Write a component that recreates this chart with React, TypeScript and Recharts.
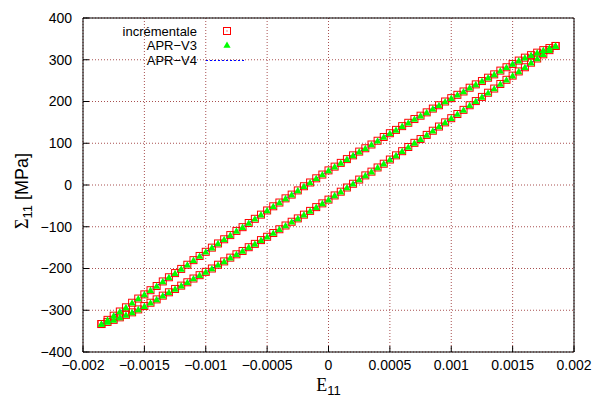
import * as React from "react";
import {
  ComposedChart,
  Scatter,
  Line,
  XAxis,
  YAxis,
  CartesianGrid,
  Legend,
} from "recharts";

// Strain E11, loading branch (from -Emax up to +Emax)
const strainLoading = [
  -0.00185, -0.0018, -0.00175, -0.0017, -0.00165, -0.0016, -0.00155, -0.0015,
  -0.00145, -0.0014, -0.00135, -0.0013, -0.00125, -0.0012, -0.00115, -0.0011,
  -0.00105, -0.001, -0.00095, -0.0009, -0.00085, -0.0008, -0.00075, -0.0007,
  -0.00065, -0.0006, -0.00055, -0.0005, -0.00045, -0.0004, -0.00035, -0.0003,
  -0.00025, -0.0002, -0.00015, -0.0001, -0.00005, 0, 0.00005, 0.0001, 0.00015,
  0.0002, 0.00025, 0.0003, 0.00035, 0.0004, 0.00045, 0.0005, 0.00055, 0.0006,
  0.00065, 0.0007, 0.00075, 0.0008, 0.00085, 0.0009, 0.00095, 0.001, 0.00105,
  0.0011, 0.00115, 0.0012, 0.00125, 0.0013, 0.00135, 0.0014, 0.00145, 0.0015,
  0.00155, 0.0016, 0.00165, 0.0017, 0.00175, 0.0018, 0.00185,
];

// Stress Sigma11 [MPa] on the loading branch
const stressLoading = [
  -333, -323, -313, -303, -293, -282, -272, -262, -252, -242, -231, -221, -211,
  -201, -191, -180, -170, -160, -150, -140, -130, -120, -110, -101, -91, -81,
  -71, -61, -51, -42, -32, -23, -13, -3, 6, 16, 25, 35, 44, 53, 62, 71, 80, 88,
  97, 106, 115, 124, 132, 141, 149, 158, 166, 174, 183, 191, 200, 208, 216, 224,
  233, 241, 249, 257, 265, 274, 282, 290, 298, 305, 311, 317, 323, 328, 333,
];

// Unloading branch (from +Emax back down to -Emax)
const strainUnloading = [
  0.00185, 0.0018, 0.00175, 0.0017, 0.00165, 0.0016, 0.00155, 0.0015, 0.00145,
  0.0014, 0.00135, 0.0013, 0.00125, 0.0012, 0.00115, 0.0011, 0.00105, 0.001,
  0.00095, 0.0009, 0.00085, 0.0008, 0.00075, 0.0007, 0.00065, 0.0006, 0.00055,
  0.0005, 0.00045, 0.0004, 0.00035, 0.0003, 0.00025, 0.0002, 0.00015, 0.0001,
  0.00005, 0, -0.00005, -0.0001, -0.00015, -0.0002, -0.00025, -0.0003,
  -0.00035, -0.0004, -0.00045, -0.0005, -0.00055, -0.0006, -0.00065, -0.0007,
  -0.00075, -0.0008, -0.00085, -0.0009, -0.00095, -0.001, -0.00105, -0.0011,
  -0.00115, -0.0012, -0.00125, -0.0013, -0.00135, -0.0014, -0.00145, -0.0015,
  -0.00155, -0.0016, -0.00165, -0.0017, -0.00175, -0.0018, -0.00185,
];

const stressUnloading = [
  333, 323, 313, 303, 293, 282, 272, 262, 252, 242, 231, 221, 211, 201, 191,
  180, 170, 160, 150, 140, 130, 120, 110, 101, 91, 81, 71, 61, 51, 42, 32, 23,
  13, 3, -6, -16, -25, -35, -44, -53, -62, -71, -80, -88, -97, -106, -115, -124,
  -132, -141, -149, -158, -166, -174, -183, -191, -200, -208, -216, -224, -233,
  -241, -249, -257, -265, -274, -282, -290, -298, -305, -311, -317, -323, -328,
  -333,
];

const xTicks = [
  -0.002, -0.0015, -0.001, -0.0005, 0, 0.0005, 0.001, 0.0015, 0.002,
];
const yTicks = [-400, -300, -200, -100, 0, 100, 200, 300, 400];

const legendLabels = ["incrémentale", "APR\u2212V3", "APR\u2212V4"];

// the two APR models lie on top of the incremental solution at this scale
const chartData = [
  ...strainLoading.map((x, i) => ({
    x,
    inc: stressLoading[i],
    v3: stressLoading[i],
    v4: stressLoading[i],
  })),
  ...strainUnloading.map((x, i) => ({
    x,
    inc: stressUnloading[i],
    v3: stressUnloading[i],
    v4: stressUnloading[i],
  })),
];

const FONT = "'Liberation Sans', Arial, Helvetica, sans-serif";
const SERIF = "'Liberation Serif', 'Times New Roman', serif";
const fmt = (v: number) => String(v).replace("-", "\u2212");

// eslint-disable-next-line @typescript-eslint/no-explicit-any
const SquareDot = (props: any) => {
  const { cx, cy } = props;
  if (cx == null || cy == null) return null;
  return (
    <rect
      x={cx - 3.5}
      y={cy - 3.5}
      width={7}
      height={7}
      fill="none"
      stroke="#ff0000"
      strokeWidth={1}
    />
  );
};

// eslint-disable-next-line @typescript-eslint/no-explicit-any
const TriangleDot = (props: any) => {
  const { cx, cy } = props;
  if (cx == null || cy == null) return null;
  return (
    <path
      d={`M${cx},${cy - 3.6}L${cx + 3.6},${cy + 2.8}L${cx - 3.6},${cy + 2.8}Z`}
      fill="#00ff00"
    />
  );
};

const LegendBox = () => (
  <svg width={260} height={72} style={{ display: "block" }}>
    <g fontFamily={FONT} fontSize={13} fill="#000" textAnchor="end">
      <text x={197} y={35.5}>
        {legendLabels[0]}
      </text>
      <text x={197} y={50}>
        {legendLabels[1]}
      </text>
      <text x={197} y={65}>
        {legendLabels[2]}
      </text>
    </g>
    <rect x={223.5} y={27.5} width={7} height={7} fill="none" stroke="#ff0000" />
    <rect x={226.5} y={30.5} width={1} height={1} fill="#ff0000" />
    <path d="M227,41.4L230.6,47.8L223.4,47.8Z" fill="#00ff00" />
    <line
      x1={206}
      y1={60.5}
      x2={246}
      y2={60.5}
      stroke="#0000ff"
      strokeDasharray="2 2"
    />
  </svg>
);

// eslint-disable-next-line @typescript-eslint/no-explicit-any
const YTitle = (props: any) => {
  const vb = props.viewBox || { y: 18, height: 334 };
  const bottom = vb.y + vb.height / 2 + 44;
  return (
    <text
      x={28}
      y={bottom}
      transform={`rotate(-90, 28, ${bottom})`}
      fill="#000"
      fontSize={18}
    >
      <tspan fontFamily={SERIF}>Σ</tspan>
      <tspan fontFamily={FONT} fontSize={13} dy={4}>
        11
      </tspan>
      <tspan fontFamily={FONT} dy={-4}>
        {" [MPa]"}
      </tspan>
    </text>
  );
};

// eslint-disable-next-line @typescript-eslint/no-explicit-any
const XTitle = (props: any) => {
  const vb = props.viewBox || { x: 83, width: 491 };
  const cx = vb.x + vb.width / 2;
  return (
    <text x={cx} y={391} textAnchor="middle" fill="#000" fontSize={18}>
      <tspan fontFamily={SERIF}>E</tspan>
      <tspan fontFamily={FONT} fontSize={13} dy={4}>
        11
      </tspan>
    </text>
  );
};

const tickStyle = { fill: "#000", fontSize: 14, fontFamily: FONT };

export default function App() {
  return (
    <div style={{ position: "absolute", left: 0, top: 0, background: "#fff" }}>
      <ComposedChart
        width={605}
        height={403}
        data={chartData}
        margin={{ top: 8, right: 21, bottom: 21, left: 23 }}
      >
        <CartesianGrid
          stroke="#a85050"
          strokeDasharray="1 2"
          horizontalValues={yTicks}
          verticalValues={xTicks}
        />
        <XAxis
          dataKey="x"
          type="number"
          domain={[-0.002, 0.002]}
          ticks={xTicks}
          allowDataOverflow
          tickFormatter={fmt}
          tick={tickStyle}
          tickSize={-6}
          tickMargin={14}
          height={30}
          stroke="#000"
          interval={0}
          label={<XTitle />}
        />
        <XAxis
          xAxisId="top"
          orientation="top"
          type="number"
          domain={[-0.002, 0.002]}
          ticks={xTicks}
          allowDataOverflow
          tick={false}
          tickSize={-6}
          height={10}
          stroke="#000"
          interval={0}
        />
        <YAxis
          type="number"
          domain={[-400, 400]}
          ticks={yTicks}
          allowDataOverflow
          tickFormatter={fmt}
          tick={tickStyle}
          tickSize={-6}
          tickMargin={17}
          width={60}
          stroke="#000"
          interval={0}
          label={<YTitle />}
        />
        <YAxis
          yAxisId="right"
          orientation="right"
          type="number"
          domain={[-400, 400]}
          ticks={yTicks}
          allowDataOverflow
          tick={false}
          tickSize={-6}
          width={10}
          stroke="#000"
          interval={0}
        />
        <Legend
          layout="vertical"
          align="center"
          verticalAlign="middle"
          wrapperStyle={{ left: 0, top: 0, width: 260, height: 72 }}
          content={() => <LegendBox />}
        />
        <Scatter
          name="incrémentale"
          dataKey="inc"
          shape={<SquareDot />}
          isAnimationActive={false}
        />
        <Scatter
          name="APR-V3"
          dataKey="v3"
          shape={<TriangleDot />}
          isAnimationActive={false}
        />
        <Line
          name="APR-V4"
          dataKey="v4"
          type="linear"
          stroke="#0000ff"
          strokeWidth={1}
          strokeDasharray="2 2"
          dot={false}
          activeDot={false}
          isAnimationActive={false}
        />
      </ComposedChart>
    </div>
  );
}
